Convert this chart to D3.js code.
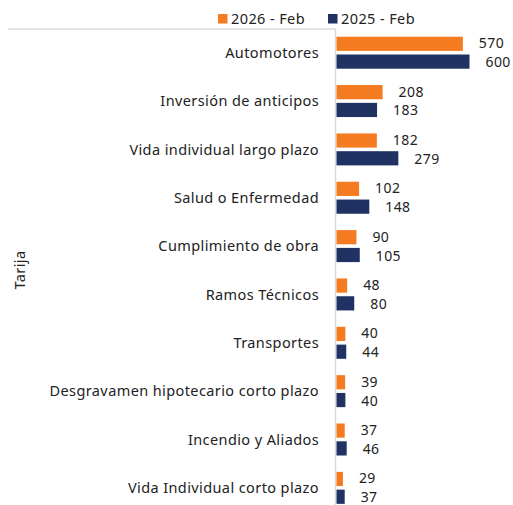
<!DOCTYPE html>
<html>
<head>
<meta charset="utf-8">
<script src="https://cdn.jsdelivr.net/npm/d3@7"></script>
<style>
  html, body { margin: 0; padding: 0; background: #ffffff; }
  svg { display: block; font-family: "Noto Sans", Lato, sans-serif; }
  text { letter-spacing: 0.4px; }
</style>
</head>
<body>
<svg id="chart" width="513" height="505"></svg>
<script>
// Primas por ramo, Tarija (miles)
const categories = [
  "Automotores",
  "Inversión de anticipos",
  "Vida individual largo plazo",
  "Salud o Enfermedad",
  "Cumplimiento de obra",
  "Ramos Técnicos",
  "Transportes",
  "Desgravamen hipotecario corto plazo",
  "Incendio y Aliados",
  "Vida Individual corto plazo"
];
const seriesNames = ["2026 - Feb", "2025 - Feb"];
const values2026 = [570, 208, 182, 102, 90, 48, 40, 39, 37, 29];
const values2025 = [600, 183, 279, 148, 105, 80, 44, 40, 46, 37];
const colors = ["#f47b20", "#203264"];
const groupTitle = "Tarija";

const svg = d3.select("#chart");
const axisX = 335.5;
const topY = 29;
const step = 48.35;
const fs = 14.5;

const x = d3.scaleLinear().domain([0, 600]).range([axisX + 1, axisX + 134]);
const y = d3.scaleBand().domain(categories).range([topY, topY + step * categories.length]).paddingInner(0).paddingOuter(0);

const rows = categories.map((c, i) => ({ cat: c, v: [values2026[i], values2025[i]] }));

// frame lines
svg.append("line")
  .attr("x1", 8).attr("x2", axisX).attr("y1", topY).attr("y2", topY)
  .attr("stroke", "#d9d9d9").attr("stroke-width", 1.5);
svg.append("line")
  .attr("x1", axisX).attr("x2", axisX).attr("y1", topY).attr("y2", 505)
  .attr("stroke", "#d9d9d9").attr("stroke-width", 1.5);

const barH = 14.2;
const gap = 3.6;
const g = svg.selectAll("g.row").data(rows).join("g").attr("class", "row")
  .attr("transform", d => `translate(0,${y(d.cat)})`);

g.each(function(d) {
  const sel = d3.select(this);
  d.v.forEach((val, k) => {
    const y0 = 7.7 + k * (barH + gap);
    sel.append("rect")
      .attr("x", x(0)).attr("y", y0)
      .attr("width", x(val) - x(0)).attr("height", barH)
      .attr("fill", colors[k]);
    sel.append("text")
      .attr("x", x(val) + 16)
      .attr("y", y0 + barH / 2 + (k === 0 ? -0.5 : 0.5))
      .attr("dy", "0.36em")
      .attr("font-size", 14)
      .attr("fill", "#222")
      .text(val);
  });
  sel.append("text")
    .attr("x", 319)
    .attr("y", 7.7 + barH + gap / 2)
    .attr("dy", "0.36em")
    .attr("text-anchor", "end")
    .attr("font-size", fs)
    .attr("fill", "#222")
    .text(d.cat);
});

// legend
const legend = svg.append("g");
const legX = [218, 328];
seriesNames.forEach((name, k) => {
  legend.append("rect").attr("x", legX[k]).attr("y", 14).attr("width", 9.5).attr("height", 9.5).attr("fill", colors[k]);
  legend.append("text").attr("x", legX[k] + 13).attr("y", 19).attr("dy", "0.36em")
    .attr("font-size", fs).attr("fill", "#222").text(name);
});

// side title
svg.append("text")
  .attr("transform", "translate(25,270) rotate(-90)")
  .attr("text-anchor", "middle")
  .attr("font-size", fs)
  .attr("fill", "#222")
  .text(groupTitle);
</script>
</body>
</html>
